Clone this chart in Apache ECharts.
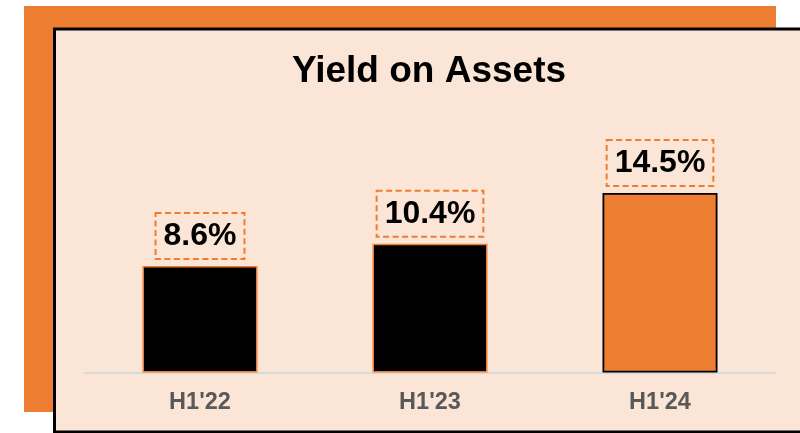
<!DOCTYPE html>
<html>
<head>
<meta charset="utf-8">
<script src="https://cdn.jsdelivr.net/npm/echarts@6/dist/echarts.min.js"></script>
<style>
html,body{margin:0;padding:0;background:#ffffff;}
#chart{width:800px;height:433px;}
</style>
</head>
<body>
<div id="chart"></div>
<script>
const titleText = "Yield on Assets";
const categories = ["H1'22", "H1'23", "H1'24"];
const values = [8.6, 10.4, 14.5];

const ORANGE = '#ED7D31';
const PEACH = '#FBE5D6';
const FONT = '"Liberation Sans", Arial, sans-serif';

const chart = echarts.init(document.getElementById('chart'), null, {renderer: 'canvas'});

const barData = values.map((v, i) => {
  const last = i === values.length - 1;
  return {
    value: v,
    itemStyle: last
      ? {color: ORANGE, borderColor: '#000000', borderWidth: 1.8}
      : {color: '#000000', borderColor: ORANGE, borderWidth: 1.5}
  };
});

chart.setOption({
  animation: false,
  backgroundColor: '#ffffff',
  graphic: [
    {type: 'rect', z: -20, silent: true,
     shape: {x: 24, y: 6, width: 752, height: 406},
     style: {fill: ORANGE}},
    {type: 'rect', z: -19, silent: true,
     shape: {x: 54.5, y: 29, width: 760, height: 403},
     style: {fill: PEACH, stroke: '#000000', lineWidth: 3}}
  ],
  title: {
    text: titleText,
    left: 429,
    top: 53.6,
    padding: 0,
    textAlign: 'center',
    textStyle: {fontFamily: FONT, fontSize: 37, fontWeight: 'bold', color: '#000000', lineHeight: 37}
  },
  grid: {left: 85, right: 25, top: 125, bottom: 60.5, containLabel: false},
  xAxis: {
    type: 'category',
    data: categories,
    axisLine: {show: true, lineStyle: {color: '#D9D9D9', width: 2}},
    axisTick: {show: false},
    axisLabel: {fontFamily: FONT, fontSize: 23.5, fontWeight: 'bold', color: '#595959', margin: 18.4, lineHeight: 23.5}
  },
  yAxis: {
    type: 'value',
    min: 0,
    max: 20,
    show: false,
    splitLine: {show: false}
  },
  series: [{
    type: 'bar',
    data: barData,
    barWidth: 115,
    label: {
      show: true,
      position: 'top',
      distance: 7,
      formatter: p => p.value.toFixed(1) + '%',
      fontFamily: FONT,
      fontSize: 32,
      fontWeight: 'bold',
      color: '#000000',
      lineHeight: 32,
      padding: [7, 8, 7, 8],
      borderColor: ORANGE,
      borderWidth: 2,
      borderType: [6, 3.5]
    }
  }]
});
</script>
</body>
</html>
